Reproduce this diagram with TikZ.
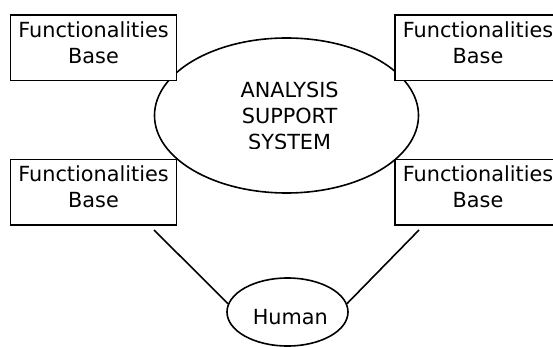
\documentclass[tikz,border=0pt]{standalone}
\usepackage{fontspec}
\setmainfont{DejaVu Sans}
\usetikzlibrary{shapes.geometric}
\begin{document}
\begin{tikzpicture}[x=1pt,y=-1pt,
  fbox/.style={draw,line width=1.6pt,fill=white,rectangle,minimum width=166pt,minimum height=65.7pt,inner sep=0pt},
  ftext/.style={font=\fontsize{20.8}{25.5}\selectfont,align=center,inner sep=0pt,anchor=north},
  oval/.style={draw,line width=1.6pt,ellipse,inner sep=0pt},
  link/.style={line width=1.6pt}]
\useasboundingbox (0,0) rectangle (553,347);
\clip (0,0) rectangle (553,347);
% central system
\node[oval,minimum width=264pt,minimum height=155pt] (ass) at (286.5,115.5) {};
\begin{scope}
  \clip (150,70) rectangle (430,148.3);
  \node[ftext,font=\fontsize{20.8}{26}\selectfont] (asst) at (289.6,82.3) {ANALYSIS\\SUPPORT\\SYSTEM};
\end{scope}
% functionality bases
\node[fbox] (fb1) at (93.5,47.85) {};
\node[ftext] (ft1) at (93.5,21.5) {Functionalities\\Base};
\node[fbox] (fb2) at (478,47.85) {};
\node[ftext] (ft2) at (478,21.5) {Functionalities\\Base};
\node[fbox] (fb3) at (93.5,192.35) {};
\node[ftext] (ft3) at (93.5,165.5) {Functionalities\\Base};
\node[fbox] (fb4) at (478,192.35) {};
\node[ftext] (ft4) at (478,165.5) {Functionalities\\Base};
% human
\node[oval,minimum width=121pt,minimum height=68pt] (hum) at (287.5,312) {};
\node[ftext] (humt) at (290.3,308.8) {Human};
% connectors
\coordinate (c1) at (154,230);
\coordinate (c2) at (419,230);
\draw[link] (c1) -- (hum.172);
\draw[link] (c2) -- (hum.8);
\end{tikzpicture}
\end{document}
